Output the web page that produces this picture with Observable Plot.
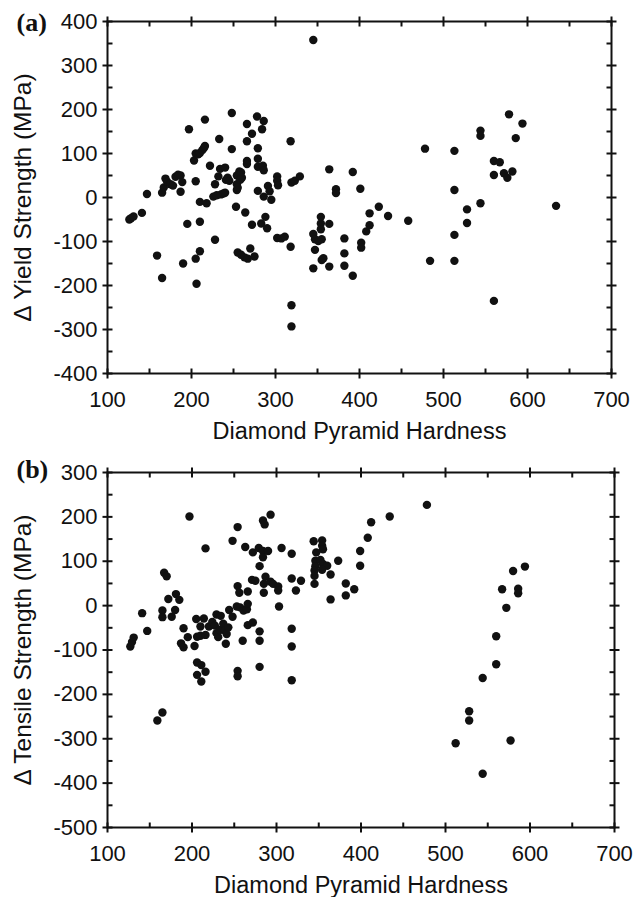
<!DOCTYPE html>
<html><head><meta charset="utf-8">
<script src="https://cdn.jsdelivr.net/npm/d3@7"></script>
<script src="https://cdn.jsdelivr.net/npm/@observablehq/plot@0.6"></script>
<style>
body{margin:0;background:#fff;}
#chart svg{display:block;}
</style>
</head><body><div id="chart"></div>
<script>
const xTicks = [100,200,300,400,500,600,700];
const xMinor = [150,250,350,450,550,650];
const yTicksA = [-400,-300,-200,-100,0,100,200,300,400];
const yMinorA = [-350,-250,-150,-50,50,150,250,350];
const yTicksB = [-500,-400,-300,-200,-100,0,100,200,300];
const yMinorB = [-450,-350,-250,-150,-50,50,150,250];
const xLabel = "Diamond Pyramid Hardness";
const yLabelA = "Δ Yield Strength (MPa)";
const yLabelB = "Δ Tensile Strength (MPa)";

// Panel (a): hardness vs change in yield strength
const hardnessA = [126,128,131,141,147,159,165,165,167,169,171,175,178,181,184,187,187,189,190,195,197,
203,205,205,208,210,213,215,216,205,206,210,210,210,218,216,222,
226,228,228,230,232,233,234,235,238,240,240,241,243,245,
248,248,254,254,254,255,253,257,259,260,258,
255,259,263,267,270,275,264,
266,266,266,266,272,272,278,279,279,279,279,
283,284,285,286,286,286,288,290,291,293,295,
302,302,303,302,307,311,318,319,323,329,318,319,319,
345,345,347,351,355,347,345,354,354,354,355,357,364,364,364,372,372,
382,382,382,392,392,401,402,402,408,412,412,
423,434,458,478,484,513,513,513,513,528,528,544,544,544,560,560,560,567,572,576,582,578,586,594,634];
const dYield = [-50,-47,-43,-35,8,-132,-183,11,23,43,36,30,27,47,52,50,13,35,-150,-60,155,
84,37,100,98,101,108,113,117,-139,-196,-122,-55,-10,-13,177,72,
2,30,-96,5,48,133,65,7,9,11,68,40,45,38,
192,110,50,30,17,22,-21,59,57,45,40,
-125,-130,-136,-139,-116,-134,-34,
167,128,83,76,145,-62,184,112,88,70,15,
-59,155,72,174,62,2,-44,-70,26,14,-5,
48,38,28,-92,-93,-89,128,34,38,48,-112,-245,-293,
358,-83,-95,-99,-95,-119,-161,-44,-59,-72,-142,-138,-157,-60,64,19,10,
-93,-127,-155,-178,58,20,-103,-114,-77,-63,-36,
-21,-42,-53,111,-144,106,17,-85,-144,-27,-58,152,140,-13,83,51,-235,80,55,45,59,189,135,168,-19];

// Panel (b): hardness vs change in tensile strength
const hardnessB = [127,129,131,141,147,159,165,165,165,167,170,
172,176,180,181,185,187,190,190,195,197,
203,205,206,206,206,210,210,211,211,214,216,216,216,
220,224,227,229,229,231,233,234,237,239,240,241,243,244,248,
248,253,254,254,256,254,254,257,260,261,263,265,266,266,266,271,272,272,275,
279,280,280,280,280,284,284,284,285,285,286,287,290,293,293,296,302,302,303,306,
318,318,318,318,318,323,329,
344,354,354,355,347,346,346,345,345,345,352,355,360,354,
364,364,373,382,382,392,399,399,408,412,434,478,
512,528,528,544,544,560,560,567,572,577,580,586,586,594];
const dTensile = [-92,-82,-72,-17,-57,-259,-241,-11,-26,74,66,
15,-25,-10,26,13,-85,-94,-51,-71,201,
-91,-30,-70,-128,-156,-47,-68,-134,-171,-29,-66,-149,129,
-47,-37,-45,-20,-62,-71,-55,-23,-41,-56,-86,-64,-49,-10,-25,
146,-2,177,44,29,-147,-159,-4,-79,-11,132,-8,4,32,-44,58,120,-38,56,
130,-58,-79,-138,89,123,109,192,49,29,183,65,123,205,54,49,43,34,-2,130,
117,61,-52,-92,-168,34,56,
145,147,135,127,120,101,89,79,67,49,103,94,90,81,
70,14,101,50,23,37,123,90,153,188,201,227,
-310,-238,-259,-163,-379,-69,-132,37,-5,-304,78,38,28,88];

const ink = "#111";
const crossV = {draw(c){c.moveTo(0,-5);c.lineTo(0,5);}};
const crossH = {draw(c){c.moveTo(-5,0);c.lineTo(5,0);}};
const inUp = {draw(c){c.moveTo(0,0);c.lineTo(0,-5);}};
const inDown = {draw(c){c.moveTo(0,0);c.lineTo(0,5);}};
const inRight = {draw(c){c.moveTo(0,0);c.lineTo(5,0);}};
const inLeft = {draw(c){c.moveTo(0,0);c.lineTo(-5,0);}};

function tickMarks(yDom, yMaj, yMin) {
  const [x0, x1] = [xTicks[0], xTicks[xTicks.length-1]];
  const [y0, y1] = yDom;
  const o = {fill: "none", stroke: ink, strokeWidth: 2};
  return [
    Plot.dot(xTicks, {x: d => d, y: () => y0, symbol: crossV, ...o}),
    Plot.dot(xTicks, {x: d => d, y: () => y1, symbol: crossV, ...o}),
    Plot.dot(xMinor, {x: d => d, y: () => y0, symbol: inUp, ...o}),
    Plot.dot(xMinor, {x: d => d, y: () => y1, symbol: inDown, ...o}),
    Plot.dot(yMaj, {y: d => d, x: () => x0, symbol: crossH, ...o}),
    Plot.dot(yMaj, {y: d => d, x: () => x1, symbol: crossH, ...o}),
    Plot.dot(yMin, {y: d => d, x: () => x0, symbol: inRight, ...o}),
    Plot.dot(yMin, {y: d => d, x: () => x1, symbol: inLeft, ...o})
  ];
}

function panel({xs, ys, yMaj, yMin, yLabel, tag, tagDy, height, marginTop, marginBottom, marginRight}) {
  const yDom = [yMaj[0], yMaj[yMaj.length-1]];
  const svg = Plot.plot({
    width: 633, height, marginLeft: 107, marginRight, marginTop, marginBottom,
    style: {fontFamily: "'Liberation Sans', Arial, sans-serif", fontSize: "22px", color: ink, background: "#fff", overflow: "visible"},
    x: {domain: [xTicks[0], xTicks[xTicks.length-1]]},
    y: {domain: yDom},
    marks: [
      Plot.axisX({ticks: xTicks, tickSize: 0, tickPadding: 18, tickFormat: d => String(d), label: xLabel, labelAnchor: "center", labelOffset: 65, labelArrow: false}),
      Plot.axisY({ticks: yMaj, tickSize: 0, tickPadding: 10, tickFormat: d => String(d), label: yLabel, labelAnchor: "center", labelOffset: 94, labelArrow: false}),
      Plot.frame({stroke: ink, strokeWidth: 2}),
      ...tickMarks(yDom, yMaj, yMin),
      Plot.dot(d3.range(xs.length), {x: i => xs[i], y: i => ys[i], r: 4.2, fill: ink}),
      Plot.text([tag], {frameAnchor: "top-left", dx: -91, dy: tagDy, textAnchor: "start", lineAnchor: "middle", fontFamily: "'Liberation Serif', 'Times New Roman', serif", fontWeight: "bold", fontSize: 26, fill: ink})
    ]
  });
  const xl = svg.querySelector('[aria-label="x-axis label"]');
  if (xl) xl.setAttribute("font-size", "23.5");
  const yl = svg.querySelector('[aria-label="y-axis label"]');
  if (yl) yl.setAttribute("font-size", "24.5");
  return svg;
}

const root = document.getElementById("chart");
root.append(panel({xs: hardnessA, ys: dYield, yMaj: yTicksA, yMin: yMinorA, yLabel: yLabelA, tag: "(a)", tagDy: 1, height: 445, marginTop: 21, marginBottom: 72, marginRight: 22}));
root.append(panel({xs: hardnessB, ys: dTensile, yMaj: yTicksB, yMin: yMinorB, yLabel: yLabelB, tag: "(b)", tagDy: -3, height: 452, marginTop: 27, marginBottom: 70, marginRight: 19}));
</script>
</body></html>
